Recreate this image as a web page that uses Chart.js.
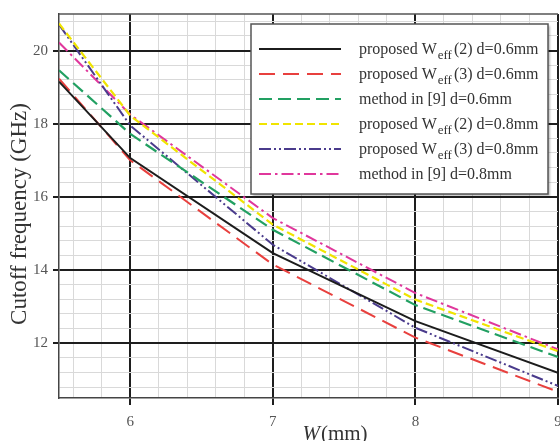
<!DOCTYPE html>
<html>
<head>
<meta charset="utf-8">
<script src="https://cdn.jsdelivr.net/npm/chart.js@4.4.1/dist/chart.umd.min.js"></script>
<style>
  html, body { margin: 0; padding: 0; background: #ffffff; }
  #wrap { width: 560px; height: 441px; }
</style>
</head>
<body>
<div id="wrap"><canvas id="c" width="560" height="441"></canvas></div>
<script>
// Strip width W (mm) and cutoff frequency (GHz) for each model
const widthMm   = [5.5, 6, 7, 8, 9];
const weff2_d06 = [19.15, 17.06, 14.46, 12.60, 11.19];
const weff3_d06 = [19.23, 17.00, 14.15, 12.15, 10.67];
const ref9_d06  = [19.46, 17.72, 15.10, 13.04, 11.62];
const weff2_d08 = [20.74, 18.22, 15.24, 13.19, 11.78];
const weff3_d08 = [20.71, 17.95, 14.69, 12.42, 10.83];
const ref9_d08  = [20.22, 18.25, 15.42, 13.37, 11.83];

// Labelled ticks
const xTickLabels = ['6', '7', '8', '9'];
const yTickLabels = ['12', '14', '16', '18', '20'];

// Legend names: [text, subscript, text]
const names = [
  ['proposed W', 'eff', '(2) d=0.6mm'],
  ['proposed W', 'eff', '(3) d=0.6mm'],
  ['method in [9] d=0.6mm', '', ''],
  ['proposed W', 'eff', '(2) d=0.8mm'],
  ['proposed W', 'eff', '(3) d=0.8mm'],
  ['method in [9] d=0.8mm', '', '']
];

const styles = [
  { color: '#1c1c1c', dash: [],                    width: 2 },
  { color: '#e8403e', dash: [16, 8],               width: 2 },
  { color: '#22a062', dash: [13, 6],               width: 2.2 },
  { color: '#f0e400', dash: [8, 4],                width: 2.2 },
  { color: '#4a3b8c', dash: [12, 3, 2, 3, 2, 3],   width: 2 },
  { color: '#e0379c', dash: [12, 4, 2.5, 4],       width: 2 }
];
const seriesValues = [weff2_d06, weff3_d06, ref9_d06, weff2_d08, weff3_d08, ref9_d08];

const SERIF = '"Liberation Serif", "Times New Roman", serif';
const near = (a, b) => Math.abs(a - b) < 1e-6;
const xMajor = v => xTickLabels.some(t => near(+t, v));
const yMajor = v => yTickLabels.some(t => near(+t, v));

const datasets = seriesValues.map((vals, i) => ({
  label: names[i].join(''),
  data: widthMm.map((x, j) => ({ x: x, y: vals[j] })),
  borderColor: styles[i].color,
  borderDash: styles[i].dash,
  borderWidth: styles[i].width,
  pointRadius: 0,
  tension: 0,
  fill: false
}));

// Frame, axis titles, x tick labels and the boxed legend
const decorations = {
  id: 'decorations',
  afterDraw(chart) {
    const ctx = chart.ctx;
    const area = chart.chartArea;
    const xs = chart.scales.x;
    ctx.save();

    // top frame line
    ctx.strokeStyle = '#555';
    ctx.lineWidth = 1.5;
    ctx.beginPath();
    ctx.moveTo(area.left, area.top);
    ctx.lineTo(area.right, area.top);
    ctx.stroke();

    // x tick labels
    ctx.fillStyle = '#555';
    ctx.font = '15px ' + SERIF;
    ctx.textAlign = 'center';
    ctx.textBaseline = 'middle';
    xTickLabels.forEach(t => {
      ctx.fillText(t, xs.getPixelForValue(+t), area.bottom + 24);
    });

    // x title: italic W followed by (mm)
    ctx.fillStyle = '#333';
    ctx.textBaseline = 'alphabetic';
    ctx.textAlign = 'left';
    const italic = 'italic 21px ' + SERIF;
    const upright = '21px ' + SERIF;
    ctx.font = italic;
    const wW = ctx.measureText('W').width;
    ctx.font = upright;
    const wU = ctx.measureText('(mm)').width;
    const tx = (area.left + area.right) / 2 + 26 - (wW + wU) / 2;
    ctx.font = italic;
    ctx.fillText('W', tx, area.bottom + 42);
    ctx.font = upright;
    ctx.fillText('(mm)', tx + wW + 1, area.bottom + 42);

    // y title
    ctx.save();
    ctx.translate(20, (area.top + area.bottom) / 2 + 8);
    ctx.rotate(-Math.PI / 2);
    ctx.textAlign = 'center';
    ctx.textBaseline = 'middle';
    ctx.font = '23px ' + SERIF;
    ctx.fillStyle = '#333';
    ctx.fillText('Cutoff frequency (GHz)', 0, 0);
    ctx.restore();

    // legend box
    const bx = area.right - 307, by = area.top + 10, bw = 297, bh = 170;
    ctx.save();
    ctx.shadowColor = 'rgba(0,0,0,0.28)';
    ctx.shadowOffsetX = 2;
    ctx.shadowOffsetY = 2;
    ctx.shadowBlur = 2;
    ctx.fillStyle = '#ffffff';
    ctx.fillRect(bx, by, bw, bh);
    ctx.restore();
    ctx.strokeStyle = '#555';
    ctx.lineWidth = 1.5;
    ctx.strokeRect(bx, by, bw, bh);

    names.forEach((nm, i) => {
      const ry = by + 25 + i * 25;
      const st = styles[i];
      ctx.save();
      ctx.strokeStyle = st.color;
      ctx.lineWidth = st.width;
      ctx.setLineDash(st.dash);
      ctx.beginPath();
      ctx.moveTo(bx + 8, ry);
      ctx.lineTo(bx + 90, ry);
      ctx.stroke();
      ctx.restore();

      let x = bx + 108;
      const base = ry + 5;
      ctx.fillStyle = '#333';
      ctx.textAlign = 'left';
      ctx.textBaseline = 'alphabetic';
      ctx.font = '16px ' + SERIF;
      ctx.fillText(nm[0], x, base);
      x += ctx.measureText(nm[0]).width;
      if (nm[1]) {
        ctx.font = '13px ' + SERIF;
        ctx.fillText(nm[1], x + 1, base + 5);
        x += ctx.measureText(nm[1]).width + 3;
        ctx.font = '16px ' + SERIF;
        ctx.fillText(nm[2], x, base);
      }
    });

    ctx.restore();
  }
};

new Chart(document.getElementById('c'), {
  type: 'line',
  data: { datasets: datasets },
  options: {
    responsive: false,
    animation: false,
    devicePixelRatio: 1,
    layout: { padding: { top: 12, right: 2, left: 0, bottom: 0 } },
    plugins: { legend: { display: false }, tooltip: { enabled: false } },
    scales: {
      x: {
        type: 'linear',
        min: 5.5,
        max: 9,
        afterBuildTicks: s => {
          const t = [];
          for (let k = 28; k <= 45; k++) t.push({ value: Math.round(k * 2) / 10 });
          s.ticks = t;
        },
        afterFit: s => { s.height = 43; },
        ticks: { display: false },
        grid: {
          color: c => xMajor(c.tick.value) ? '#1e1e1e' : '#d9d9d9',
          lineWidth: c => xMajor(c.tick.value) ? 2 : 1,
          tickColor: c => xMajor(c.tick.value) ? '#1e1e1e' : 'rgba(0,0,0,0)',
          tickLength: 7
        },
        border: { display: true, color: '#444', width: 1.5 }
      },
      y: {
        type: 'linear',
        min: 10.5,
        max: 21,
        afterBuildTicks: s => {
          const t = [];
          for (let k = 27; k <= 52; k++) t.push({ value: Math.round(k * 4) / 10 });
          s.ticks = t;
        },
        afterFit: s => { s.width = 59; },
        ticks: {
          autoSkip: false,
          color: '#555',
          padding: 5,
          font: { family: SERIF, size: 15 },
          callback: v => yMajor(v) ? String(Math.round(v)) : ''
        },
        grid: {
          color: c => yMajor(c.tick.value) ? '#1e1e1e' : '#d9d9d9',
          lineWidth: c => yMajor(c.tick.value) ? 2 : 1,
          tickColor: c => yMajor(c.tick.value) ? '#1e1e1e' : 'rgba(0,0,0,0)',
          tickLength: 6
        },
        border: { display: true, color: '#444', width: 1.5 }
      }
    }
  },
  plugins: [decorations]
});
</script>
</body>
</html>
